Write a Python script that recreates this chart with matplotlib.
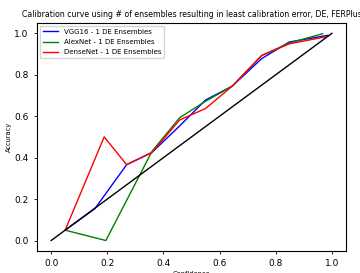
import matplotlib
matplotlib.use("Agg")
import matplotlib.pyplot as plt

title = "Calibration curve using # of ensembles resulting in least calibration error, DE, FERPlus"
labels = ["VGG16 - 1 DE Ensembles", "AlexNet - 1 DE Ensembles", "DenseNet - 1 DE Ensembles"]
colors = ["blue", "green", "red"]

vgg_x = [0.05, 0.156, 0.269, 0.359, 0.46, 0.55, 0.645, 0.75, 0.848, 0.985]
vgg_y = [0.05, 0.154, 0.366, 0.425, 0.556, 0.678, 0.745, 0.878, 0.958, 0.99]
alex_x = [0.05, 0.195, 0.359, 0.458, 0.55, 0.645, 0.75, 0.848, 0.967]
alex_y = [0.05, 0.0, 0.43, 0.593, 0.672, 0.745, 0.893, 0.953, 0.998]
dense_x = [0.05, 0.189, 0.269, 0.359, 0.458, 0.55, 0.645, 0.75, 0.848, 0.985]
dense_y = [0.05, 0.50, 0.366, 0.425, 0.582, 0.637, 0.745, 0.893, 0.949, 0.985]
diag = [0.0, 1.0]

fig = plt.figure(figsize=(3.6, 2.73), dpi=100)
ax = fig.add_axes([0.103, 0.081, 0.858, 0.835])
ax.plot(vgg_x, vgg_y, color=colors[0], lw=1, label=labels[0])
ax.plot(alex_x, alex_y, color=colors[1], lw=1, label=labels[1])
ax.plot(dense_x, dense_y, color=colors[2], lw=1, label=labels[2])
ax.plot(diag, diag, color="black", lw=1)
ax.set_xlim(-0.05, 1.05)
ax.set_ylim(-0.05, 1.05)
ax.set_xticks([0.0, 0.2, 0.4, 0.6, 0.8, 1.0])
ax.set_yticks([0.0, 0.2, 0.4, 0.6, 0.8, 1.0])
ax.tick_params(labelsize=6.5, length=2.5, width=0.6)
for s in ax.spines.values():
    s.set_linewidth(0.8)
ax.set_title(title, fontsize=5.6, pad=4)
ax.set_xlabel("Confidence", fontsize=4.8, labelpad=2)
ax.set_ylabel("Accuracy", fontsize=4.8, labelpad=1.5)
ax.legend(loc="upper left", fontsize=5, handlelength=2.2, borderpad=0.45,
          labelspacing=0.6, borderaxespad=0.4)
fig.savefig("out.png", dpi=100)
